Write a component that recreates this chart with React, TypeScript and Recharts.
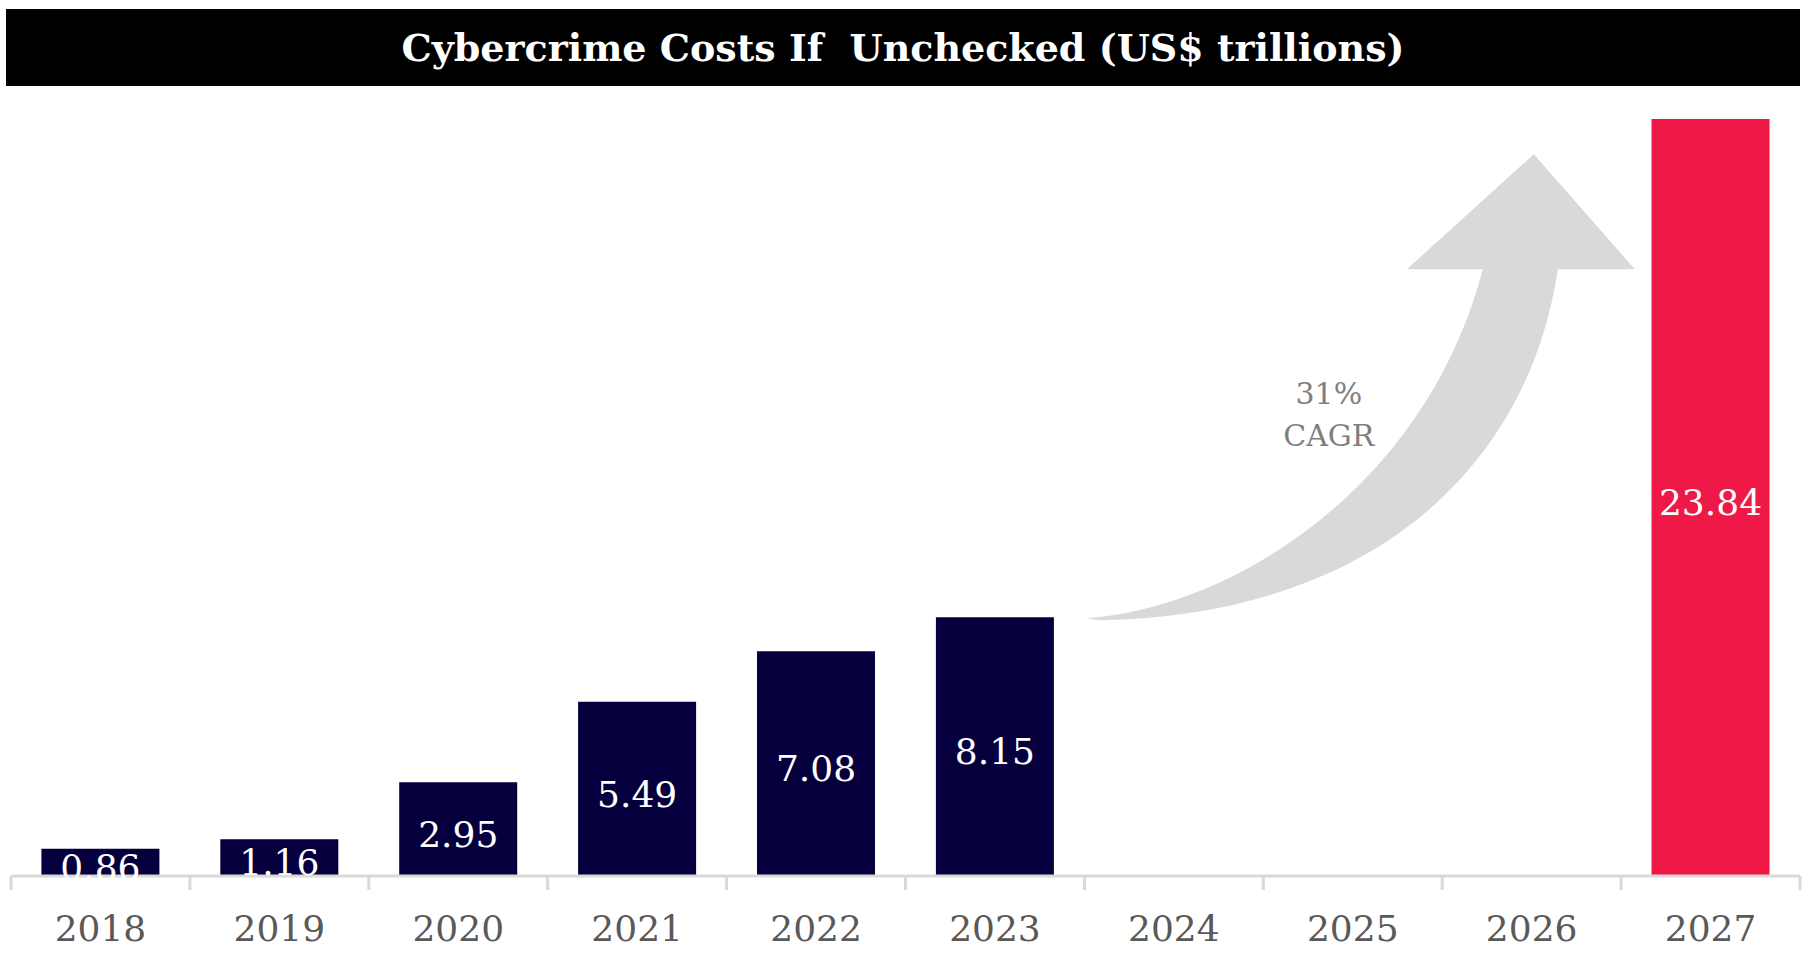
import React from 'react';
import { Bar, BarChart, Cell, LabelList, ReferenceDot, XAxis, YAxis } from 'recharts';

const years = ['2018', '2019', '2020', '2021', '2022', '2023', '2024', '2025', '2026', '2027'];
const costs = [0.86, 1.16, 2.95, 5.49, 7.08, 8.15, null, null, null, 23.84];
const highlightYear = '2027';
const cagrLines = ['31%', 'CAGR'];

const data = years.map((year, i) => ({ year, cost: costs[i] }));

const NAVY = '#05003d';
const RED = '#ee1947';
const AXIS_GREY = '#d9d9d9';
const SERIF = "Georgia, 'DejaVu Serif', serif";

// year label plus the band-boundary tick marks (Excel style)
const YearTick = (props: any) => {
  const { x, y, payload, index } = props;
  const half = payload?.offset || 89.45;
  const isLast = index === years.length - 1;
  return (
    <g>
      <line x1={x - half} x2={x - half} y1={y - 14} y2={y} stroke={AXIS_GREY} strokeWidth={3} />
      {isLast && <line x1={x + half} x2={x + half} y1={y - 14} y2={y} stroke={AXIS_GREY} strokeWidth={3} />}
      <text x={x} y={y + 38} textAnchor="middle" dominantBaseline="central" fill="#595959" fontSize={36} fontFamily={SERIF}>
        {payload.value}
      </text>
    </g>
  );
};

// curved growth arrow, drawn around the 2024 slot at the 2023 level
const GrowthArrow = (props: any) => {
  const { cx, cy } = props;
  if (cx == null || cy == null) return null;
  const p = (dx: number, dy: number) => `${cx + dx},${cy + dy}`;
  const d =
    `M${p(-88, 1)} C${p(56, -9)} ${p(251, -127)} ${p(309, -348)} ` +
    `L${p(233, -348)} L${p(360, -463)} L${p(461, -348)} L${p(384, -348)} ` +
    `C${p(356, -157)} ${p(206, -2)} ${p(-74, 3)} Z`;
  return (
    <g>
      <path d={d} fill="#d9d9d9" />
      {cagrLines.map((t, i) => (
        <text key={t} x={cx + 155} y={cy - 224 + i * 42} textAnchor="middle" dominantBaseline="central" fill="#7f7f7f" fontSize={30} fontFamily={SERIF}>
          {t}
        </text>
      ))}
    </g>
  );
};

export default function App() {
  return (
    <div style={{ position: 'fixed', left: 0, top: 0, width: 1812, height: 958, background: '#fff', overflow: 'hidden' }}>
      <div
        style={{
          position: 'absolute', left: 6, top: 9, width: 1794, height: 77, background: '#000', color: '#fff',
          fontFamily: SERIF, fontWeight: 'bold', fontSize: 38, lineHeight: '77px', textAlign: 'center', whiteSpace: 'pre',
        }}
      >
        {'Cybercrime Costs If  Unchecked (US$ trillions)'}
      </div>
      <div style={{ position: 'absolute', left: 0, top: 0 }}>
        <BarChart width={1812} height={958} data={data} margin={{ top: 119, right: 12, bottom: 22, left: 11 }} barCategoryGap="17%">
          <YAxis hide domain={[0, 'dataMax']} />
          <XAxis
            dataKey="year"
            height={60}
            axisLine={{ stroke: AXIS_GREY, strokeWidth: 3 }}
            tickLine={false}
            tickSize={14}
            tickMargin={0}
            interval={0}
            tick={<YearTick />}
          />
          <Bar dataKey="cost" isAnimationActive={false}>
            {data.map((d) => (
              <Cell key={d.year} fill={d.year === highlightYear ? RED : NAVY} />
            ))}
            <LabelList dataKey="cost" position="center" fill="#fff" fontSize={36} fontFamily={SERIF} dy={5} />
          </Bar>
          <ReferenceDot x="2024" y={costs[5] as number} shape={<GrowthArrow />} />
        </BarChart>
      </div>
    </div>
  );
}
